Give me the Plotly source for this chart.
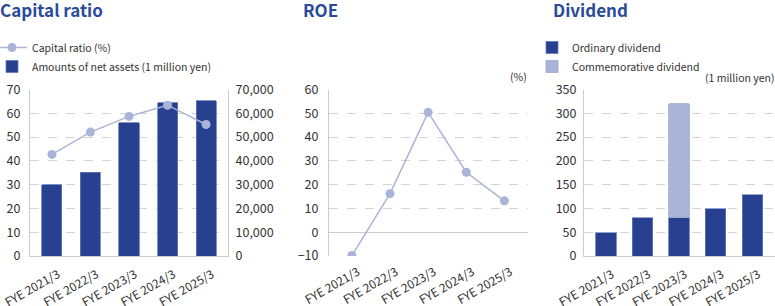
import plotly.graph_objects as go

W, H = 775, 306
FONT = "Noto Sans CJK JP"
TXT = "#333333"
DARK = "#27408F"
LIGHT = "#A9B4D6"
GRID = "#D4D4D4"
AXL = "#CCCCCC"
TITLE_C = "#2A4B9B"

categories = ["FYE 2021/3", "FYE 2022/3", "FYE 2023/3", "FYE 2024/3", "FYE 2025/3"]
capital_ratio = [42.7, 52.1, 58.7, 63.4, 55.3]
net_assets = [30000, 35200, 56000, 64500, 65300]
roe = [-9.8, 16.2, 50.4, 25.2, 13.2]
ordinary_div = [50, 80, 80, 100, 130]
commemorative_div = [0, 0, 240, 0, 0]

def px_x(p):
    return p / W

def px_y(p):
    return 1 - p / H

fig = go.Figure()

# Capital ratio chart: bars on primary (right-side) axis, line on overlay (left-side) axis
fig.add_trace(go.Bar(
    x=categories, y=net_assets, name="Amounts of net assets (1 million yen)",
    marker=dict(color=DARK, line=dict(color="#6577B8", width=0.8)), width=0.52,
    xaxis="x", yaxis="y", legend="legend",
))
fig.add_trace(go.Scatter(
    x=categories, y=capital_ratio, name="Capital ratio (%)",
    mode="lines+markers", line=dict(color=LIGHT, width=1.5),
    marker=dict(color=LIGHT, size=9), xaxis="x", yaxis="y2", legend="legend",
))

# ROE chart
fig.add_trace(go.Scatter(
    x=categories, y=roe, name="ROE", mode="lines+markers",
    line=dict(color=LIGHT, width=1.5), marker=dict(color=LIGHT, size=9),
    xaxis="x2", yaxis="y3", showlegend=False,
))

# Dividend chart
fig.add_trace(go.Bar(
    x=categories, y=ordinary_div, name="Ordinary dividend",
    marker=dict(color=DARK, line=dict(color="#6577B8", width=0.8)), width=0.56,
    xaxis="x3", yaxis="y4", legend="legend2",
))
fig.add_trace(go.Bar(
    x=categories, y=commemorative_div, name="Commemorative dividend",
    marker=dict(color=LIGHT, line=dict(color="#9AA6CC", width=0.8)), width=0.56,
    xaxis="x3", yaxis="y4", legend="legend2",
))

tickfont = dict(family=FONT, size=12.5, color=TXT)
xtickfont = dict(family=FONT, size=12, color=TXT)

xcommon = dict(type="category", tickangle=-30, tickfont=xtickfont, showgrid=False,
               ticks="", fixedrange=True, automargin=False,
               ticklabelstandoff=6, ticklabelshift=6)

yd = [px_y(256), px_y(89.5)]
ycommon = dict(ticks="", fixedrange=True, automargin=False, tickfont=tickfont)

fig.update_layout(
    width=W, height=H, margin=dict(l=0, r=0, t=0, b=0, autoexpand=False),
    paper_bgcolor="white", plot_bgcolor="white",
    barmode="stack", font=dict(family=FONT, color=TXT),
    xaxis=dict(domain=[px_x(30), px_x(228)], range=[-0.57, 4.57], anchor="y",
               showline=True, linecolor=AXL, linewidth=1, **xcommon),
    yaxis=dict(domain=yd, range=[0, 70000], dtick=10000, anchor="x",
               side="right", tickformat=",",
               showgrid=True, gridcolor=GRID, griddash="dash", gridwidth=1,
               zeroline=True, zerolinecolor=AXL, zerolinewidth=1,
               showline=True, linecolor=AXL, linewidth=1,
               ticklabelstandoff=4, **ycommon),
    yaxis2=dict(domain=yd, range=[0, 70], dtick=10, anchor="x",
                overlaying="y", side="left",
                showgrid=False, zeroline=False,
                showline=True, linecolor=AXL, linewidth=1,
                ticklabelstandoff=6, **ycommon),
    xaxis2=dict(domain=[px_x(329), px_x(528)], range=[-0.6, 4.62], anchor="y3",
                showline=False, **xcommon),
    yaxis3=dict(domain=yd, range=[-10, 60], dtick=10, anchor="x2",
                showgrid=True, gridcolor=GRID, griddash="dash", gridwidth=1,
                zeroline=True, zerolinecolor=AXL, zerolinewidth=1.2,
                showline=True, linecolor=AXL, linewidth=1,
                ticklabelstandoff=7, **ycommon),
    xaxis3=dict(domain=[px_x(584), 1.0], range=[-0.6, 4.62], anchor="y4",
                showline=True, linecolor=AXL, linewidth=1, **xcommon),
    yaxis4=dict(domain=yd, range=[0, 350], dtick=50, anchor="x3",
                showgrid=True, gridcolor=GRID, griddash="dash", gridwidth=1,
                zeroline=True, zerolinecolor=AXL, zerolinewidth=1,
                showline=True, linecolor=AXL, linewidth=1,
                ticklabelstandoff=4, **ycommon),
    legend=dict(x=px_x(-8), y=px_y(33), xanchor="left", yanchor="top",
                font=dict(family=FONT, size=10.5, color=TXT),
                bgcolor="rgba(0,0,0,0)", traceorder="reversed",
                tracegroupgap=0),
    legend2=dict(x=px_x(532), y=px_y(33), xanchor="left", yanchor="top",
                 font=dict(family=FONT, size=10.5, color=TXT),
                 bgcolor="rgba(0,0,0,0)", traceorder="normal",
                 tracegroupgap=0),
    showlegend=True,
)

title_font = dict(family=FONT, size=17, color=TITLE_C)
annotations = [
    dict(text="<b>Capital ratio</b>", x=px_x(-2), y=px_y(10)),
    dict(text="<b>ROE</b>", x=px_x(301), y=px_y(10)),
    dict(text="<b>Dividend</b>", x=px_x(551), y=px_y(10)),
]
for a in annotations:
    fig.add_annotation(xref="paper", yref="paper", xanchor="left", yanchor="middle",
                       showarrow=False, font=title_font, **a)

fig.add_annotation(text="(%)", xref="paper", yref="paper", x=px_x(518), y=px_y(76),
                   xanchor="center", yanchor="middle", showarrow=False,
                   font=dict(family=FONT, size=10.5, color=TXT))
fig.add_annotation(text="(1 million yen)", xref="paper", yref="paper", x=1.0, y=px_y(77),
                   xanchor="right", yanchor="middle", showarrow=False, xshift=2,
                   font=dict(family=FONT, size=10.5, color=TXT))

fig.write_html("out.html")
